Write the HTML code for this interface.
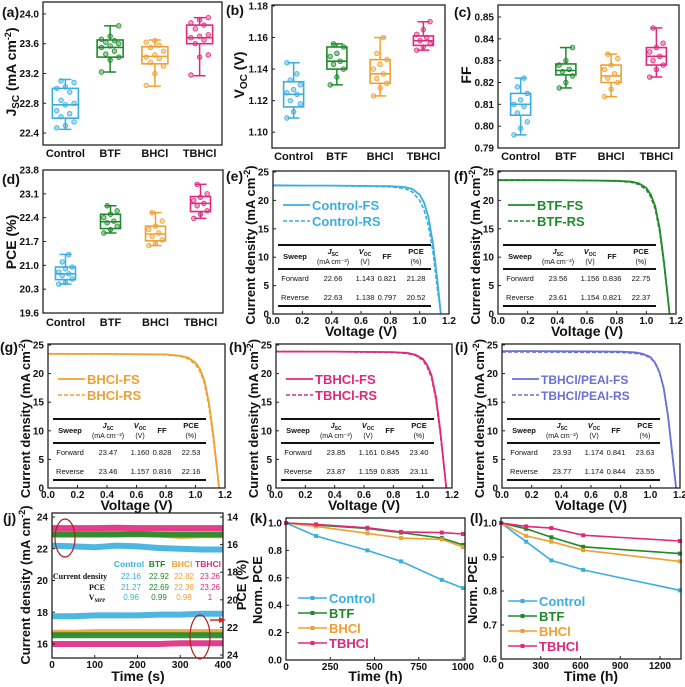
<!DOCTYPE html>
<html><head><meta charset="utf-8">
<style>
html,body{margin:0;padding:0;background:#fff;}
svg{display:block;font-family:"Liberation Sans",Arial,sans-serif;}
</style></head>
<body>
<svg id="fig" width="685" height="687" viewBox="0 0 685 687" xmlns="http://www.w3.org/2000/svg"></svg>
<script>
// ---------- data ----------
const categories = ["Control","BTF","BHCl","TBHCl"];
const colors = ["#3aaee0","#1e8a2a","#f0a030","#e0287e"];
// box stats (a) Jsc
const jscMin=[22.45,23.22,23.03,23.17], jscQ1=[22.6,23.42,23.33,23.6], jscMed=[22.78,23.55,23.43,23.68], jscQ3=[23.0,23.65,23.56,23.85], jscMax=[23.12,23.84,23.65,23.95];
const jscPts=[[22.47,22.5,22.55,22.62,22.66,22.7,22.78,22.8,22.84,22.95,23.0,23.02,23.08,23.1],[23.22,23.38,23.42,23.46,23.5,23.55,23.57,23.6,23.62,23.64,23.66,23.7,23.84],[23.04,23.2,23.3,23.35,23.4,23.42,23.45,23.5,23.55,23.58,23.62,23.64],[23.18,23.42,23.45,23.6,23.65,23.68,23.7,23.72,23.8,23.85,23.88,23.92,23.95]];
// (b) Voc
const vocMin=[1.109,1.130,1.123,1.152], vocQ1=[1.116,1.140,1.131,1.155], vocMed=[1.124,1.145,1.137,1.158], vocQ3=[1.132,1.154,1.146,1.161], vocMax=[1.144,1.156,1.160,1.170];
const vocPts=[[1.109,1.113,1.118,1.12,1.124,1.125,1.127,1.13,1.133,1.137,1.144],[1.13,1.135,1.14,1.143,1.145,1.148,1.15,1.154,1.156],[1.123,1.128,1.131,1.134,1.137,1.14,1.143,1.146,1.15,1.16],[1.152,1.154,1.156,1.158,1.16,1.162,1.165,1.17]];
// (c) FF
const ffMin=[0.796,0.8175,0.8135,0.8225], ffQ1=[0.805,0.8235,0.820,0.828], ffMed=[0.810,0.8255,0.823,0.832], ffQ3=[0.815,0.8285,0.828,0.836], ffMax=[0.822,0.836,0.833,0.845];
const ffPts=[[0.796,0.799,0.802,0.806,0.809,0.81,0.812,0.815,0.818,0.822],[0.8175,0.82,0.823,0.825,0.826,0.828,0.83,0.836],[0.8135,0.817,0.82,0.822,0.824,0.826,0.828,0.831,0.833],[0.8225,0.826,0.828,0.83,0.832,0.834,0.836,0.838,0.845]];
// (d) PCE
const pceMin=[20.45,21.95,21.58,22.38], pceQ1=[20.58,22.08,21.72,22.58], pceMed=[20.75,22.28,21.92,22.82], pceQ3=[20.95,22.5,22.15,23.02], pceMax=[21.32,22.75,22.55,23.38];
const pcePts=[[20.45,20.5,20.6,20.7,20.75,20.8,20.9,20.95,21.1,21.32],[21.95,22.05,22.15,22.25,22.3,22.4,22.5,22.6,22.75],[21.58,21.65,21.75,21.85,21.95,22.05,22.15,22.3,22.55],[22.38,22.5,22.6,22.75,22.82,22.9,23.0,23.1,23.38]];
// J-V curves
const voltE=[0,0.2,0.4,0.6,0.8,0.9,0.95,1.0,1.03,1.06,1.09,1.12,1.145];
const jFsE=[22.66,22.6,22.6,22.55,22.5,22.35,22.0,21.0,19.6,17.0,12.5,6.0,0];
const jRsE=[22.63,22.6,22.58,22.5,22.4,22.1,21.5,20.0,18.3,15.5,11.0,4.5,0];
const voltF=[0,0.2,0.4,0.6,0.8,0.9,0.95,1.0,1.03,1.06,1.09,1.12,1.157];
const jFsF=[23.56,23.55,23.55,23.5,23.45,23.3,23.0,22.2,21.0,19.0,15.0,9.0,0];
const jRsF=[23.61,23.6,23.55,23.5,23.4,23.2,22.8,21.9,20.6,18.5,14.5,8.5,0];
const voltG=[0,0.2,0.4,0.6,0.8,0.9,0.95,1.0,1.03,1.06,1.09,1.12,1.16];
const jFsG=[23.47,23.45,23.45,23.4,23.35,23.1,22.8,21.9,20.8,18.8,15.0,9.5,0];
const jRsG=[23.46,23.45,23.43,23.38,23.3,23.0,22.6,21.6,20.4,18.3,14.4,8.8,0];
const voltH=[0,0.2,0.4,0.6,0.8,0.9,0.95,1.0,1.03,1.06,1.09,1.12,1.161];
const jFsH=[23.85,23.85,23.85,23.8,23.75,23.6,23.3,22.6,21.5,19.7,16.0,10.0,0];
const jRsH=[23.87,23.85,23.83,23.78,23.7,23.5,23.2,22.4,21.2,19.3,15.5,9.5,0];
const voltI=[0,0.2,0.4,0.6,0.8,0.9,0.95,1.0,1.03,1.06,1.09,1.12,1.174];
const jFsI=[23.93,23.93,23.9,23.88,23.85,23.7,23.45,22.9,22.0,20.4,17.5,12.5,0];
const jRsI=[23.77,23.77,23.75,23.73,23.7,23.55,23.3,22.8,21.9,20.3,17.4,12.4,0];
// (j) MPP tracking
const timeJ=[0,50,100,150,200,250,300,350,400];
const jdControl=[22.2,22.15,22.1,22.2,22.15,22.05,22.0,21.95,21.95];
const jdBTF=[22.9,22.9,22.9,22.9,22.92,22.9,22.9,22.9,22.9];
const jdBHCl=[22.95,22.95,22.95,22.95,22.95,22.9,22.8,22.85,22.85];
const jdTBHCl=[23.3,23.3,23.3,23.32,23.3,23.3,23.3,23.3,23.3];
const pceControl=[17.75,17.75,17.8,17.8,17.8,17.85,17.85,17.9,17.9];
const pceBTF=[16.55,16.55,16.55,16.55,16.55,16.55,16.55,16.55,16.55];
const pceBHCl=[16.7,16.7,16.75,16.75,16.75,16.75,16.75,16.75,16.75];
const pceTBHCl=[16.0,16.0,16.0,16.0,16.0,16.0,16.05,16.05,16.05];
// (k) stability
const timeK=[0,170,460,650,880,1000];
const kControl=[1,0.905,0.80,0.72,0.585,0.525];
const kBTF=[1,0.985,0.96,0.93,0.89,0.84];
const kBHCl=[1,0.975,0.925,0.89,0.88,0.825];
const kTBHCl=[1,0.99,0.965,0.935,0.93,0.92];
// (l) stability
const timeL=[0,190,380,620,1350];
const lControl=[1,0.945,0.89,0.862,0.802];
const lBTF=[1,0.983,0.958,0.93,0.91];
const lBHCl=[1,0.962,0.945,0.92,0.887];
const lTBHCl=[1,0.99,0.985,0.964,0.947];

// ---------- helpers ----------
const NS="http://www.w3.org/2000/svg";
const svg=document.getElementById('fig');
function mk(tag,attrs,parent){const e=document.createElementNS(NS,tag);for(const k in attrs)e.setAttribute(k,attrs[k]);(parent||svg).appendChild(e);return e;}
function lin(d0,d1,r0,r1){return v=>r0+(v-d0)*(r1-r0)/(d1-d0);}
function txt(x,y,s,opt,parent){opt=opt||{};const e=mk('text',{x:x,y:y,'font-size':opt.size||10,'font-weight':opt.w||'bold','text-anchor':opt.anchor||'middle',fill:opt.fill||'#111'},parent);if(opt.family)e.setAttribute('font-family',opt.family);if(opt.rot)e.setAttribute('transform','rotate(-90 '+x+' '+y+')');e.textContent=s;return e;}
function frame(x0,y0,x1,y1,name){const r=mk('rect',{x:x0,y:y0,width:x1-x0,height:y1-y0,fill:'none',stroke:'#222','stroke-width':1.3});return r;}
function label(x,y,s){const e=txt(x,y,s,{size:14,anchor:'start'});}
function yTicks(vals,sy,x0,fmt,right){vals.forEach(v=>{const y=sy(v);mk('line',{x1:x0,x2:right?x0-3:x0+3,y1:y,y2:y,stroke:'#222','stroke-width':1});const t=txt(right?x0+4:x0-4,y+3.5,fmt(v),{size:10,anchor:right?'start':'end'});});}
function xTicks(vals,sx,y0,ly,fmt){vals.forEach(v=>{const x=sx(v);mk('line',{x1:x,x2:x,y1:y0,y2:y0-3,stroke:'#222','stroke-width':1});const t=txt(x,ly,fmt(v),{size:10});});}

// ---------- box plots ----------
function boxPanel(cfg){
  const {x0,x1,y0,y1,d0,d1,ticks,fmt,mins,q1,med,q3,maxs,pts,bw,name}=cfg;
  const sy=lin(d0,d1,y1,y0);
  const cw=(x1-x0)/4;
  const g=mk('g',{});
  categories.forEach((c,i)=>{
    const cx=x0+(i+0.5)*cw, col=colors[i];
    const bg=mk('g',{},g);
    mk('line',{x1:cx,x2:cx,y1:sy(maxs[i]),y2:sy(q3[i]),stroke:col,'stroke-width':1.5},bg);
    mk('line',{x1:cx,x2:cx,y1:sy(q1[i]),y2:sy(mins[i]),stroke:col,'stroke-width':1.5},bg);
    mk('line',{x1:cx-6,x2:cx+6,y1:sy(maxs[i]),y2:sy(maxs[i]),stroke:col,'stroke-width':1.5},bg);
    mk('line',{x1:cx-6,x2:cx+6,y1:sy(mins[i]),y2:sy(mins[i]),stroke:col,'stroke-width':1.5},bg);
    mk('rect',{x:cx-bw/2,y:sy(q3[i]),width:bw,height:sy(q1[i])-sy(q3[i]),fill:'none',stroke:col,'stroke-width':1.6},bg);
    mk('line',{x1:cx-bw/2,x2:cx+bw/2,y1:sy(med[i]),y2:sy(med[i]),stroke:col,'stroke-width':1.6},bg);
    pts[i].forEach((v,j)=>{const dx=((j*7)%5-2)*bw/6;const p=mk('circle',{cx:cx+dx,cy:sy(v),r:2.3,fill:col,'fill-opacity':0.45,stroke:col,'stroke-width':0.8},bg);});
    const t=txt(cx,cfg.labY,c,{size:11});
  });
  frame(x0,y0,x1,y1,name+'-frame');
  yTicks(ticks,sy,x0,fmt);
}
boxPanel({name:'jsc-boxplot',x0:43,x1:222,y0:2,y1:145,d0:22.24,d1:24.16,ticks:[22.4,22.8,23.2,23.6,24.0],fmt:v=>v.toFixed(1),mins:jscMin,q1:jscQ1,med:jscMed,q3:jscQ3,maxs:jscMax,pts:jscPts,bw:26,labY:157});
boxPanel({name:'voc-boxplot',x0:272,x1:445,y0:5,y1:148,d0:1.09,d1:1.1806,ticks:[1.10,1.12,1.14,1.16,1.18],fmt:v=>v.toFixed(2),mins:vocMin,q1:vocQ1,med:vocMed,q3:vocQ3,maxs:vocMax,pts:vocPts,bw:20,labY:160});
boxPanel({name:'ff-boxplot',x0:498,x1:679,y0:5,y1:148,d0:0.79,d1:0.8555,ticks:[0.79,0.80,0.81,0.82,0.83,0.84,0.85],fmt:v=>v.toFixed(2),mins:ffMin,q1:ffQ1,med:ffMed,q3:ffQ3,maxs:ffMax,pts:ffPts,bw:20,labY:160});
boxPanel({name:'pce-boxplot',x0:43,x1:223,y0:170,y1:313,d0:19.6,d1:23.8,ticks:[19.6,20.3,21.0,21.7,22.4,23.1,23.8],fmt:v=>v.toFixed(1),mins:pceMin,q1:pceQ1,med:pceMed,q3:pceQ3,maxs:pceMax,pts:pcePts,bw:20,labY:326});

// y titles row 1/2
(function(){
 let e=mk('text',{x:16,y:72,'font-size':14,'font-weight':'bold','text-anchor':'middle',transform:'rotate(-90 16 72)',fill:'#111'});
 e.innerHTML='J<tspan font-size="10" dy="3">SC</tspan><tspan dy="-3"> (mA cm</tspan><tspan font-size="9" dy="-5">-2</tspan><tspan dy="5">)</tspan>';
 
 e=mk('text',{x:244,y:75,'font-size':14,'font-weight':'bold','text-anchor':'middle',transform:'rotate(-90 244 75)',fill:'#111'});
 e.innerHTML='V<tspan font-size="10" dy="3">OC</tspan><tspan dy="-3"> (V)</tspan>';
 
 e=txt(471,75,'FF',{size:14,rot:true});
 e=txt(16,242,'PCE (%)',{size:14,rot:true});
})();
label(2,17,'(a)');label(226,15,'(b)');label(454,17,'(c)');label(2,184,'(d)');

// ---------- J-V panels ----------
function jvPanel(cfg){
  const {x0,x1,yTop,y0,name,col,volt,fs,rs,lab,legFs,legRs}=cfg;
  const sx=lin(0,1.2,x0,x1), sy=lin(0,25,y0,yTop);
  const g=mk('g',{});
  const path=(js)=>volt.map((v,i)=>(i?'L':'M')+sx(v).toFixed(1)+','+sy(js[i]).toFixed(1)).join('');
  let p=mk('path',{d:path(rs),fill:'none',stroke:col,'stroke-width':1.6,'stroke-dasharray':'4,2'},g);
  p=mk('path',{d:path(fs),fill:'none',stroke:col,'stroke-width':1.8},g);
  frame(x0,yTop-1,x1,y0,name+'-frame');
  yTicks([0,5,10,15,20,25],sy,x0,v=>String(v));
  xTicks([0,0.2,0.4,0.6,0.8,1.0,1.2],sx,y0,y0+10,v=>v.toFixed(1));
  let t=txt((x0+x1)/2,y0+22,'Voltage (V)',{size:14});
  const tx=x0-18,ty=(yTop+y0)/2+2;
  const yt=mk('text',{x:tx,y:ty,'font-size':13,'font-weight':'bold','text-anchor':'middle',transform:'rotate(-90 '+tx+' '+ty+')',fill:'#111'});
  yt.innerHTML='Current density (mA cm<tspan font-size="9" dy="-5">-2</tspan><tspan dy="5">)</tspan>';
  
  // legend
  const lg=mk('g',{},g);
  mk('line',{x1:x0+10,x2:x0+37,y1:y0-109,y2:y0-109,stroke:col,'stroke-width':1.8},lg);
  mk('line',{x1:x0+10,x2:x0+37,y1:y0-93,y2:y0-93,stroke:col,'stroke-width':1.6,'stroke-dasharray':'4,2'},lg);
  const ls=cfg.legSize||13;
  t=txt(x0+39,y0-104,legFs,{size:ls,anchor:'start',fill:col},lg);
  t=txt(x0+39,y0-88,legRs,{size:ls,anchor:'start',fill:col},lg);
  // table
  const tb=mk('g',{},g);
  const L=x0+5,R=x0+158;
  [-69,-45,-8].forEach(dy=>mk('line',{x1:L,x2:R,y1:y0+dy,y2:y0+dy,stroke:'#111','stroke-width':2},tb));
  const cols=[17,55,87,109,138];
  txt(L+cols[0],y0-55,'Sweep',{size:7.5},tb);
  const h1=mk('text',{x:L+cols[1],y:y0-60,'font-size':7.5,'font-weight':'bold','text-anchor':'middle','font-style':'italic',fill:'#111'},tb);h1.innerHTML='J<tspan font-size="5" dy="2" font-style="normal">SC</tspan>';
  txt(L+cols[1],y0-50,'(mA cm⁻²)',{size:7,w:'normal'},tb);
  const h2=mk('text',{x:L+cols[2],y:y0-60,'font-size':7.5,'font-weight':'bold','text-anchor':'middle','font-style':'italic',fill:'#111'},tb);h2.innerHTML='V<tspan font-size="5" dy="2" font-style="normal">OC</tspan>';
  txt(L+cols[2],y0-50,'(V)',{size:7,w:'normal'},tb);
  txt(L+cols[3],y0-55,'FF',{size:7.5},tb);
  txt(L+cols[4],y0-60,'PCE',{size:7.5},tb);txt(L+cols[4],y0-50,'(%)',{size:7,w:'normal'},tb);
  [['Forward',lab[0]],['Reverse',lab[1]]].forEach((r,k)=>{const yy=y0-33+k*19;txt(L+cols[0],yy,r[0],{size:7.5,w:'normal'},tb);r[1].forEach((v,j)=>txt(L+cols[j+1],yy,v,{size:7.5,w:'normal'},tb));});
}
jvPanel({name:'jv-control',x0:273,x1:449,yTop:172,y0:314,col:colors[0],volt:voltE,fs:jFsE,rs:jRsE,legFs:'Control-FS',legRs:'Control-RS',lab:[['22.66','1.143','0.821','21.28'],['22.63','1.138','0.797','20.52']]});
jvPanel({name:'jv-btf',x0:498,x1:676,yTop:172,y0:314,col:colors[1],volt:voltF,fs:jFsF,rs:jRsF,legFs:'BTF-FS',legRs:'BTF-RS',lab:[['23.56','1.156','0.836','22.75'],['23.61','1.154','0.821','22.37']]});
jvPanel({name:'jv-bhcl',x0:48,x1:225,yTop:345,y0:488,col:colors[2],volt:voltG,fs:jFsG,rs:jRsG,legFs:'BHCl-FS',legRs:'BHCl-RS',lab:[['23.47','1.160','0.828','22.53'],['23.46','1.157','0.816','22.16']]});
jvPanel({name:'jv-tbhcl',x0:276,x1:452,yTop:345,y0:488,col:colors[3],volt:voltH,fs:jFsH,rs:jRsH,legFs:'TBHCl-FS',legRs:'TBHCl-RS',lab:[['23.85','1.161','0.845','23.40'],['23.87','1.159','0.835','23.11']]});
jvPanel({name:'jv-tbhcl-peai',x0:502,x1:680,yTop:345,y0:488,col:'#6b6fd6',volt:voltI,fs:jFsI,rs:jRsI,legFs:'TBHCl/PEAI-FS',legRs:'TBHCl/PEAI-RS',legSize:12,lab:[['23.93','1.174','0.841','23.63'],['23.77','1.174','0.844','23.55']]});
label(226,181,'(e)');label(454,181,'(f)');label(0,352,'(g)');label(229,352,'(h)');label(455,352,'(i)');

// ---------- (j) MPP ----------
(function(){
  const x0=52,x1=223,y0=513,y1=658;
  const sx=lin(0,400,x0,x1), sy=lin(16,24,644,517), syR=lin(14,24,517,655);
  const g=mk('g',{});
  const series=[[jdControl,0],[jdBHCl,2],[jdBTF,1],[jdTBHCl,3],[pceControl,0],[pceBHCl,2],[pceBTF,1],[pceTBHCl,3]];
  series.forEach(s=>{const d=timeJ.map((t,i)=>(i?'L':'M')+sx(t).toFixed(1)+','+sy(s[0][i]).toFixed(1)).join('');
    const p=mk('path',{d:d,fill:'none',stroke:colors[s[1]],'stroke-width':6,'stroke-opacity':0.9},g);});
  frame(x0,y0,x1,y1,'mpp-frame');
  yTicks([16,18,20,22,24],sy,x0,v=>String(v));
  yTicks([14,16,18,20,22,24],syR,x1,v=>String(v),true);
  xTicks([0,100,200,300,400],sx,y1,y1+10,v=>String(v));
  let t=txt(138,681,'Time (s)',{size:14});
  const yt=mk('text',{x:30,y:585,'font-size':13,'font-weight':'bold','text-anchor':'middle',transform:'rotate(-90 30 585)',fill:'#111'});
  yt.innerHTML='Current density (mA cm<tspan font-size="9" dy="-5">-2</tspan><tspan dy="5">)</tspan>';
  
  t=txt(246,585,'PCE (%)',{size:13,rot:true});
  let e=mk('ellipse',{cx:65,cy:538,rx:10,ry:19,fill:'none',stroke:'#b02020','stroke-width':1.2});
  e=mk('ellipse',{cx:200,cy:637,rx:10,ry:22,fill:'none',stroke:'#b02020','stroke-width':1.2});
  mk('line',{x1:210,x2:221,y1:620,y2:620,stroke:'#e02020','stroke-width':1.5});
  mk('polygon',{points:'226,620 219,617 219,623',fill:'#e02020'});
  const cx=[129,157,182,208];
  const hdr=['Control','BTF','BHCl','TBHCl'];
  hdr.forEach((h,i)=>txt(cx[i],567,h,{size:8.5,fill:colors[i]}));
  const rows=[['Current density',['22.16','22.92','22.82','23.26'],579],['PCE',['21.27','22.69','22.36','23.26'],590],['V',['0.96','0.99','0.98','1'],600]];
  rows.forEach(r=>{const l=txt(r[0]==='Current density'?80:97,r[2],r[0],{size:8,family:'"Liberation Serif",serif'});
    if(r[0]==='V'){l.innerHTML='V<tspan font-size="5" dy="2">MPP</tspan>';}
    r[1].forEach((v,i)=>txt(cx[i]+2,r[2],v,{size:8,w:'normal',fill:colors[i]}));});
})();
label(3,523,'(j)');

// ---------- stability ----------
function stabPanel(cfg){
  const {x0,x1,y0,y1,sx,sy,time,sets,name,leg}=cfg;
  const g=mk('g',{});
  sets.forEach((s,k)=>{const d=time.map((t,i)=>(i?'L':'M')+sx(t).toFixed(1)+','+sy(s[i]).toFixed(1)).join('');
    const sg=mk('g',{},g);
    mk('path',{d:d,fill:'none',stroke:colors[k],'stroke-width':1.6},sg);
    time.forEach((t,i)=>{const m=mk('rect',{x:sx(t)-2,y:sy(s[i])-2,width:4,height:4,fill:colors[k]},sg);});
  });
  frame(x0,y0,x1,y1,name+'-frame');
  yTicks(cfg.yt,sy,x0,v=>v.toFixed(1));
  xTicks(cfg.xt,sx,y1,y1+10,v=>String(v));
  let t=txt((x0+x1)/2,681,'Time (h)',{size:14});
  t=txt(x0-24,590,'Norm. PCE',{size:13,rot:true});
  categories.forEach((c,k)=>{const yy=leg[1]+k*15;const lg=mk('g',{},g);
    mk('line',{x1:leg[0],x2:leg[0]+29,y1:yy,y2:yy,stroke:colors[k],'stroke-width':1.6},lg);
    mk('rect',{x:leg[0]+12.5,y:yy-2,width:4,height:4,fill:colors[k]},lg);
    txt(leg[0]+31,yy+5,c,{size:13,anchor:'start',fill:colors[k]},lg);});
}
stabPanel({name:'stability-k',x0:286,x1:465,y0:518,y1:660,sx:lin(0,1000,286,463),sy:lin(0,1,660,523),time:timeK,sets:[kControl,kBTF,kBHCl,kTBHCl],yt:[0,0.2,0.4,0.6,0.8,1.0],xt:[0,250,500,750,1000],leg:[298,598]});
stabPanel({name:'stability-l',x0:501,x1:681,y0:518,y1:659,sx:lin(0,1200,501,660),sy:lin(0.6,1,659,523),time:timeL,sets:[lControl,lBTF,lBHCl,lTBHCl],yt:[0.6,0.7,0.8,0.9,1.0],xt:[0,300,600,900,1200],leg:[508,601]});
label(250,523,'(k)');label(470,523,'(l)');
</script>
</body></html>
